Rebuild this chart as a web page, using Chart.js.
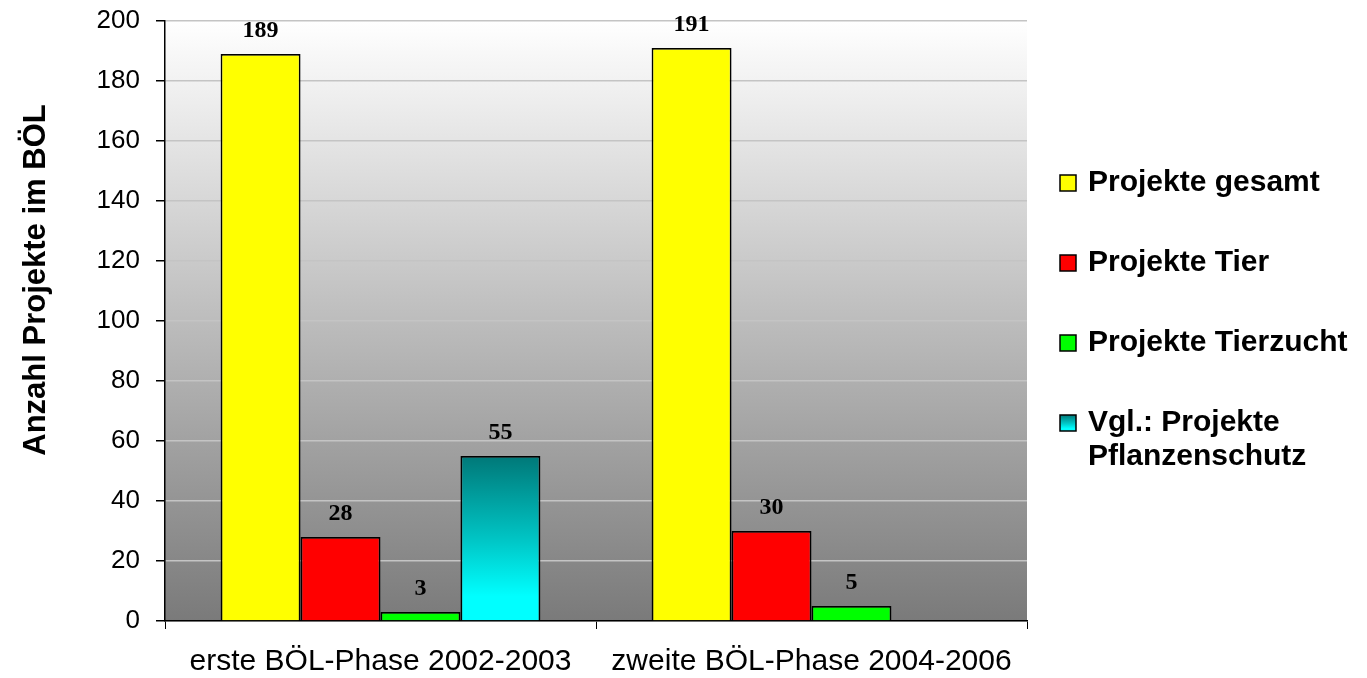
<!DOCTYPE html>
<html>
<head>
<meta charset="utf-8">
<script src="https://cdn.jsdelivr.net/npm/chart.js@4.4.1/dist/chart.umd.min.js"></script>
<style>
  html, body { margin: 0; padding: 0; background: #fff; }
  #wrap { width: 1367px; height: 678px; position: relative; }
</style>
</head>
<body>
<div id="wrap"><canvas id="chart"></canvas></div>
<script>
// data
const categories = ["erste BÖL-Phase 2002-2003", "zweite BÖL-Phase 2004-2006"];
const seriesNames = ["Projekte gesamt", "Projekte Tier", "Projekte Tierzucht", ["Vgl.: Projekte", "Pflanzenschutz"]];
const gesamt = [189, 191];
const tier = [28, 30];
const tierzucht = [3, 5];
const pflanzenschutz = [55, null];
const yMin = 0, yMax = 200, yStep = 20;
const yTitle = "Anzahl Projekte im BÖL";

function cyanGradient(ctx, top, bottom) {
  const g = ctx.createLinearGradient(0, top, 0, bottom);
  g.addColorStop(0, "#007878");
  g.addColorStop(0.5, "#00c4c4");
  g.addColorStop(0.85, "#00ffff");
  g.addColorStop(1, "#00ffff");
  return g;
}

function cyanBar(context) {
  const chart = context.chart;
  const y = chart.scales && chart.scales.y;
  if (!y || context.raw == null) return "#00c0c0";
  const top = y.getPixelForValue(context.raw), bottom = y.getPixelForValue(0);
  if (!isFinite(top) || !isFinite(bottom) || top === bottom) return "#00c0c0";
  return cyanGradient(chart.ctx, top, bottom);
}

// plot area background (white -> gray)
const plotBg = {
  id: "plotBg",
  beforeDraw(chart) {
    const { ctx, chartArea: a } = chart;
    const g = ctx.createLinearGradient(0, a.top, 0, a.bottom);
    g.addColorStop(0, "#ffffff");
    g.addColorStop(1, "#7a7a7a");
    ctx.save();
    ctx.fillStyle = g;
    ctx.fillRect(a.left, a.top, a.right - a.left, a.bottom - a.top);
    ctx.restore();
  }
};

// value labels above bars, y title, legend
const extras = {
  id: "extras",
  afterDatasetsDraw(chart) {
    const ctx = chart.ctx;
    ctx.save();
    ctx.font = "bold 24px 'Liberation Serif', 'Times New Roman', serif";
    ctx.fillStyle = "#000";
    ctx.textAlign = "center";
    ctx.textBaseline = "bottom";
    chart.data.datasets.forEach((ds, i) => {
      chart.getDatasetMeta(i).data.forEach((bar, j) => {
        if (ds.data[j] == null) return;
        ctx.fillText(String(ds.data[j]), bar.x, bar.y - 11);
      });
    });

    // y axis title
    ctx.save();
    ctx.translate(36, 280);
    ctx.rotate(-Math.PI / 2);
    ctx.font = "bold 31px 'Liberation Sans', Arial, sans-serif";
    ctx.textBaseline = "middle";
    ctx.fillText(yTitle, 0, 0);
    ctx.restore();

    // legend
    const rowY = [183, 263, 343, 423];
    const sq = 16;
    ctx.font = "bold 30px 'Liberation Sans', Arial, sans-serif";
    ctx.textAlign = "left";
    ctx.textBaseline = "middle";
    chart.data.datasets.forEach((ds, i) => {
      const y = rowY[i];
      const x = 1060;
      ctx.fillStyle = i === 3 ? cyanGradient(ctx, y - sq / 2, y + sq / 2) : ds.backgroundColor;
      ctx.fillRect(x, y - sq / 2, sq, sq);
      ctx.lineWidth = 1.5;
      ctx.strokeStyle = "#000";
      ctx.strokeRect(x, y - sq / 2, sq, sq);
      ctx.fillStyle = "#000";
      const lines = Array.isArray(ds.label) ? ds.label : [ds.label];
      lines.forEach((t, k) => ctx.fillText(t, 1088, y + k * 34));
    });
    ctx.restore();
  }
};

const barStyle = { borderColor: "#000", borderWidth: 1.8, barPercentage: 1.0, categoryPercentage: 0.742 };

new Chart(document.getElementById("chart"), {
  type: "bar",
  data: {
    labels: categories,
    datasets: [
      { label: seriesNames[0], data: gesamt, backgroundColor: "#ffff00", ...barStyle },
      { label: seriesNames[1], data: tier, backgroundColor: "#ff0000", ...barStyle },
      { label: seriesNames[2], data: tierzucht, backgroundColor: "#00ff00", ...barStyle },
      { label: seriesNames[3], data: pflanzenschutz, backgroundColor: cyanBar, ...barStyle }
    ]
  },
  options: {
    responsive: true,
    maintainAspectRatio: false,
    animation: false,
    devicePixelRatio: 1,
    layout: { padding: { left: 0, top: 21, right: 340, bottom: 0 } },
    plugins: {
      legend: { display: false },
      tooltip: { enabled: false }
    },
    scales: {
      x: {
        grid: { display: true, drawOnChartArea: false, drawTicks: true, tickLength: 8, color: "#000", lineWidth: 1 },
        border: { display: true, color: "#000", width: 1.5 },
        ticks: { color: "#000", padding: 15, font: { family: "'Liberation Sans', Arial, sans-serif", size: 30 } },
        afterFit(scale) { scale.height = 57; scale.paddingLeft = 0; scale.paddingRight = 0; }
      },
      y: {
        min: yMin,
        max: yMax,
        ticks: { stepSize: yStep, color: "#000", padding: 16, font: { family: "'Liberation Sans', Arial, sans-serif", size: 26 } },
        grid: { color: "#c4c4c4", lineWidth: 1.5, tickColor: "#000", tickLength: 9 },
        border: { display: true, color: "#000", width: 1.5 },
        afterFit(scale) { scale.width = 165; scale.paddingTop = 0; scale.paddingBottom = 0; }
      }
    }
  },
  plugins: [plotBg, extras]
});
</script>
</body>
</html>
